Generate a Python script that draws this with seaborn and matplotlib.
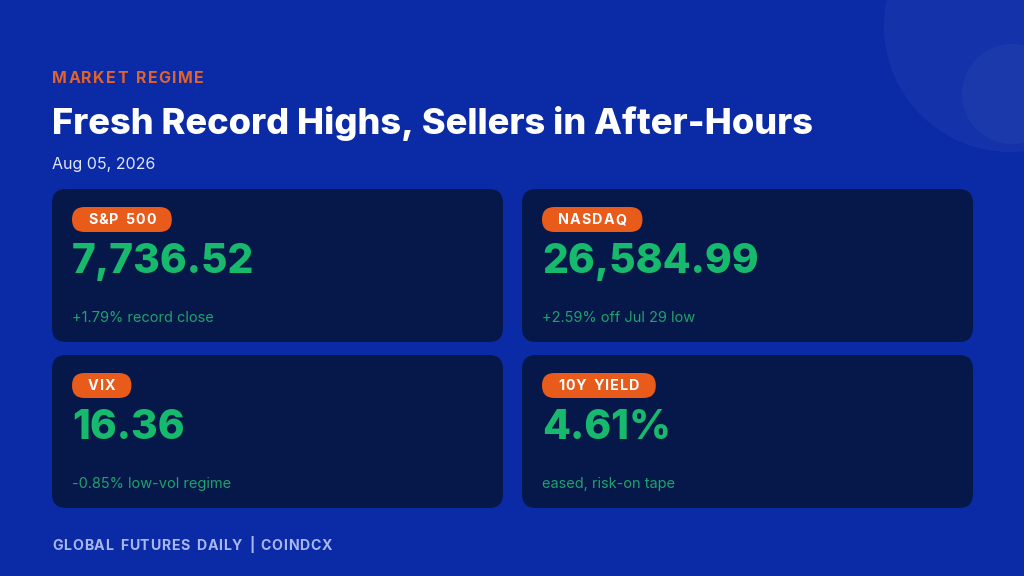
import matplotlib
matplotlib.use("Agg")
import matplotlib.pyplot as plt
import seaborn as sns
from matplotlib.patches import FancyBboxPatch, Circle

# ---- data ----
kicker = "MARKET REGIME"
title = "Fresh Record Highs, Sellers in After-Hours"
date_label = "Aug 05, 2026"
card_labels = ["S&P 500", "NASDAQ", "VIX", "10Y YIELD"]
card_values = ["7,736.52", "26,584.99", "16.36", "4.61%"]
card_notes = ["+1.79% record close", "+2.59% off Jul 29 low",
              "-0.85% low-vol regime", "eased, risk-on tape"]
footer = "GLOBAL FUTURES DAILY | COINDCX"

sns.set_theme(style="white")
FONT = ["Inter", "DejaVu Sans"]
plt.rcParams["font.family"] = FONT

BG = "#0b2aa6"
CARD = "#06184a"
GREEN = "#17b96c"
NOTE = "#1ea36a"
PILL = "#e85b1a"
KICK = "#e2622a"
FOOT = "#a9b7ef"
DATE = "#dfe5ff"

W, H = 1024, 576
fig = plt.figure(figsize=(W / 100, H / 100), dpi=100, facecolor=BG)
ax = fig.add_axes([0, 0, 1, 1])
ax.set_xlim(0, W)
ax.set_ylim(H, 0)
ax.axis("off")
ax.set_facecolor(BG)

# decorative circles
ax.add_patch(Circle((1010, 26), 126, color="white", alpha=0.04, lw=0, zorder=1))
ax.add_patch(Circle((1012, 94), 50, color="white", alpha=0.035, lw=0, zorder=1))

fig.canvas.draw()
renderer = fig.canvas.get_renderer()


def text_width(s, **kw):
    t = ax.text(0, 0, s, **kw)
    bb = t.get_window_extent(renderer=renderer)
    t.remove()
    return bb.width


def char_advance(c, **kw):
    if c == " ":
        return text_width("a a", **kw) - text_width("aa", **kw) + 1.5
    return text_width(c, **kw)


def spaced_width(s, spacing, **kw):
    return sum(char_advance(c, **kw) for c in s) + spacing * (len(s) - 1)


def spaced_text(x, y, s, spacing, **kw):
    cx = x
    for c in s:
        if c != " ":
            ax.text(cx, y, c, va="baseline", ha="left", **kw)
        cx += char_advance(c, **kw) + spacing
    return cx - spacing - x


spaced_text(52, 83, kicker, 1.4, fontsize=11.5, fontweight="bold", color=KICK, zorder=3)
ax.text(52, 134, title, fontsize=26.1, fontweight="heavy", color="white",
        va="baseline", ha="left", zorder=3)
ax.text(52, 169, date_label, fontsize=11.5, color=DATE, va="baseline", ha="left", zorder=3)

card_x = [52, 522, 52, 522]
card_y = [189, 189, 355, 355]
cw, ch = 451, 153

for lab, val, note, x0, y0 in zip(card_labels, card_values, card_notes, card_x, card_y):
    ax.add_patch(FancyBboxPatch((x0 + 14, y0 + 14), cw - 28, ch - 28,
                                boxstyle="round,pad=14", fc=CARD, ec="none", zorder=2))
    kw = dict(fontsize=10.3, fontweight="bold", color="white", zorder=4)
    sp = 1.1
    tw = spaced_width(lab, sp, **kw)
    pad = 16
    px0 = x0 + 20
    py0 = y0 + 18
    ph = 25
    ax.add_patch(FancyBboxPatch((px0, py0), tw + 2 * pad, ph,
                                boxstyle=f"round,pad=0,rounding_size={ph/2}",
                                fc=PILL, ec="none", zorder=3))
    spaced_text(px0 + pad, py0 + 17.3, lab, sp, **kw)
    ax.text(x0 + 20, y0 + 84, val, fontsize=29.3, fontweight="heavy", color=GREEN,
            va="baseline", ha="left", zorder=3)
    ax.text(x0 + 20, y0 + 133, note, fontsize=10.5, color=NOTE,
            va="baseline", ha="left", zorder=3)

spaced_text(52, 550, footer, 0.8, fontsize=10.2, fontweight="bold", color=FOOT, zorder=3)

fig.savefig("out.png", dpi=100, facecolor=BG)
